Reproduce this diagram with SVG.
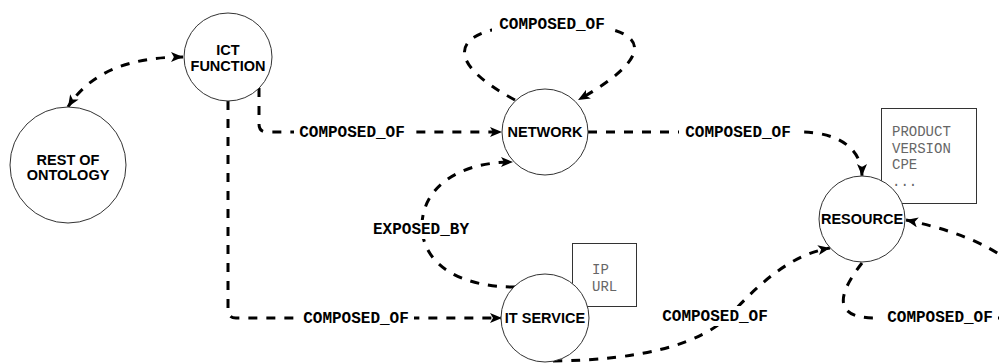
<svg xmlns="http://www.w3.org/2000/svg" width="1003" height="363" viewBox="0 0 1003 363">
<defs>
<marker id="arr" viewBox="0 0 12 10" refX="12" refY="5" markerWidth="12" markerHeight="10" markerUnits="userSpaceOnUse" orient="auto-start-reverse">
<path d="M0,0 L12,5 L0,10 L3,5 Z" fill="#000"/>
</marker>
</defs>
<style>
.node{fill:#fff;stroke:#333;stroke-width:1}
.nl{font-family:"Liberation Sans",Arial,sans-serif;font-weight:bold;font-size:14.5px;fill:#000;text-anchor:middle}
.edge{fill:none;stroke:#000;stroke-width:3;stroke-dasharray:9 9}
.lb{fill:#fff}
.el{font-family:"Liberation Mono","Courier New",monospace;font-weight:bold;font-size:16px;fill:#000;text-anchor:middle}
.box{fill:#fff;stroke:#333;stroke-width:1}
.bt{font-family:"Liberation Mono","Courier New",monospace;font-size:14px;fill:#666}
</style>
<rect width="1003" height="363" fill="#fff"/>
<g id="connectors">
<path class="edge" d="M 183 57 C 130 57, 90 72, 68 107" marker-start="url(#arr)" marker-end="url(#arr)"/>
<path class="edge" d="M 259 88 L 259 124 Q 259 132 267 132 L 502 132" marker-end="url(#arr)"/>
<path class="edge" d="M 228 101 L 228 310 Q 228 318 236 318 L 502 318" marker-end="url(#arr)"/>
<path class="edge" d="M 515 100 C 440 60, 445 24, 553 24 C 665 24, 650 60, 578 100" marker-end="url(#arr)"/>
<path class="edge" d="M 588 132 L 800 132 C 840 132, 862 150, 862 176" marker-end="url(#arr)"/>
<path class="edge" d="M 515 287 C 460 287, 425 265, 422 230 C 420 190, 455 162, 513 162" marker-end="url(#arr)"/>
<path class="edge" d="M 553 361 C 640 360, 700 345, 730 315 C 760 283, 790 255, 830 248" marker-end="url(#arr)"/>
<path class="edge" d="M 862 263 C 845 285, 825 318, 875 318 L 1000 318 C 1050 318, 1050 250, 906 220" marker-end="url(#arr)"/>
<rect class="lb" x="294" y="124" width="114" height="17"/>
<text class="el" x="352" y="137">COMPOSED_OF</text>
<rect class="lb" x="298" y="310" width="116" height="17"/>
<text class="el" x="356" y="323">COMPOSED_OF</text>
<rect class="lb" x="492" y="14" width="120" height="20"/>
<text class="el" x="552" y="29">COMPOSED_OF</text>
<rect class="lb" x="679" y="124" width="120" height="17"/>
<text class="el" x="738" y="137">COMPOSED_OF</text>
<rect class="lb" x="368" y="220" width="107" height="19"/>
<text class="el" x="421" y="234">EXPOSED_BY</text>
<rect class="lb" x="657" y="306" width="116" height="20"/>
<text class="el" x="715" y="321">COMPOSED_OF</text>
<rect class="lb" x="878" y="309" width="120" height="17"/>
<text class="el" x="940" y="322">COMPOSED_OF</text>
</g>
<g id="ict-function">
<circle class="node" cx="228" cy="57" r="44"/>
<text class="nl" x="228" y="55">ICT</text>
<text class="nl" x="228" y="71">FUNCTION</text>
</g>
<g id="rest-of-ontology">
<circle class="node" cx="68" cy="165" r="58"/>
<text class="nl" x="68" y="165">REST OF</text>
<text class="nl" x="68" y="180">ONTOLOGY</text>
</g>
<g id="network">
<circle class="node" cx="545" cy="132" r="43"/>
<text class="nl" x="545" y="137">NETWORK</text>
</g>
<g id="it-service-attrs">
<rect class="box" x="572.5" y="243.5" width="64" height="63"/>
<text class="bt" x="592" y="274">IP</text>
<text class="bt" x="592" y="291">URL</text>
</g>
<g id="it-service">
<circle class="node" cx="545" cy="318" r="44"/>
<text class="nl" x="545" y="323">IT SERVICE</text>
</g>
<g id="resource-attrs">
<rect class="box" x="881.5" y="108.5" width="95" height="95"/>
<text class="bt" x="892" y="136">PRODUCT</text>
<text class="bt" x="892" y="153">VERSION</text>
<text class="bt" x="892" y="169">CPE</text>
<text class="bt" x="892" y="186">...</text>
</g>
<g id="resource">
<circle class="node" cx="862" cy="219" r="43"/>
<text class="nl" x="862" y="224">RESOURCE</text>
</g>
</svg>
